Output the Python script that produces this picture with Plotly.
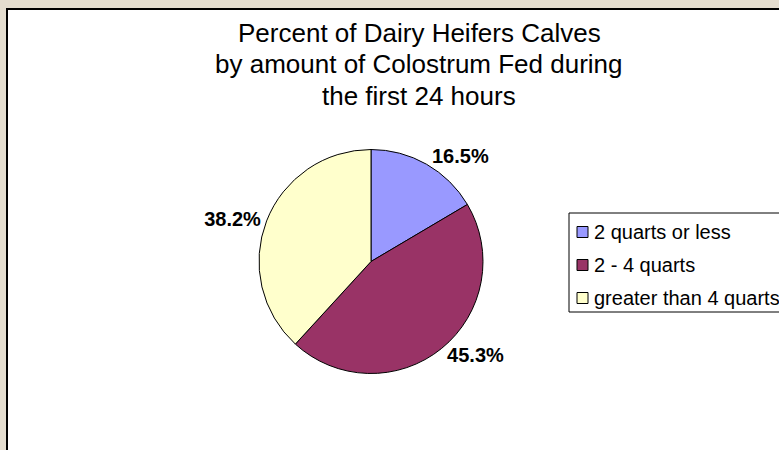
import plotly.graph_objects as go

categories = ["2 quarts or less", "2 - 4 quarts", "greater than 4 quarts"]
values = [16.5, 45.3, 38.2]
colors = ["#9999FF", "#993366", "#FFFFCC"]
title_lines = ["Percent of Dairy Heifers Calves",
               "by amount of Colostrum Fed during",
               "the first 24 hours"]

W, H = 779, 450
FONT = "Arial, Liberation Sans, sans-serif"

def px(x):
    return x / W

def py(y):
    return 1 - y / H

cx, cy, r = 371, 261.5, 112

fig = go.Figure()
fig.add_trace(go.Pie(
    labels=categories,
    values=values,
    marker=dict(colors=colors, line=dict(color="black", width=1)),
    sort=False,
    direction="clockwise",
    rotation=0,
    texttemplate="%{percent:.1%}",
    textposition="outside",
    textfont=dict(family=FONT, size=20, color="black", weight="bold"),
    domain=dict(x=[px(cx - r), px(cx + r)], y=[py(cy + r), py(cy - r)]),
    hoverinfo="label+percent",
    showlegend=False,
))

shapes = [
    # white chart panel with dark border
    dict(type="rect", xref="paper", yref="paper", x0=px(7), y0=py(9), x1=px(800), y1=py(470),
         fillcolor="white", line=dict(color="black", width=2), layer="below"),
    # legend box
    dict(type="rect", xref="paper", yref="paper", x0=px(569), y0=py(213), x1=px(800), y1=py(312),
         fillcolor="white", line=dict(color="black", width=1), layer="below"),
]
annotations = []
for i, line in enumerate(title_lines):
    annotations.append(dict(text=line, xref="paper", yref="paper", x=px(419), y=py(33 + 31.5 * i),
                            xanchor="center", yanchor="middle", showarrow=False,
                            font=dict(family=FONT, size=26, color="black")))
for i, (lab, col) in enumerate(zip(categories, colors)):
    ry = 232 + 33 * i
    shapes.append(dict(type="rect", xref="paper", yref="paper",
                       x0=px(577), x1=px(588), y0=py(ry - 5.5), y1=py(ry + 5.5),
                       fillcolor=col, line=dict(color="black", width=1), layer="above"))
    annotations.append(dict(text=lab, xref="paper", yref="paper", x=px(592), y=py(ry),
                            xanchor="left", yanchor="middle", showarrow=False,
                            font=dict(family=FONT, size=20, color="black")))

fig.update_layout(
    width=W, height=H,
    margin=dict(l=0, r=0, t=0, b=0),
    paper_bgcolor="#E4DDCF",
    plot_bgcolor="white",
    shapes=shapes,
    annotations=annotations,
    showlegend=False,
)

fig.write_html("out.html")
